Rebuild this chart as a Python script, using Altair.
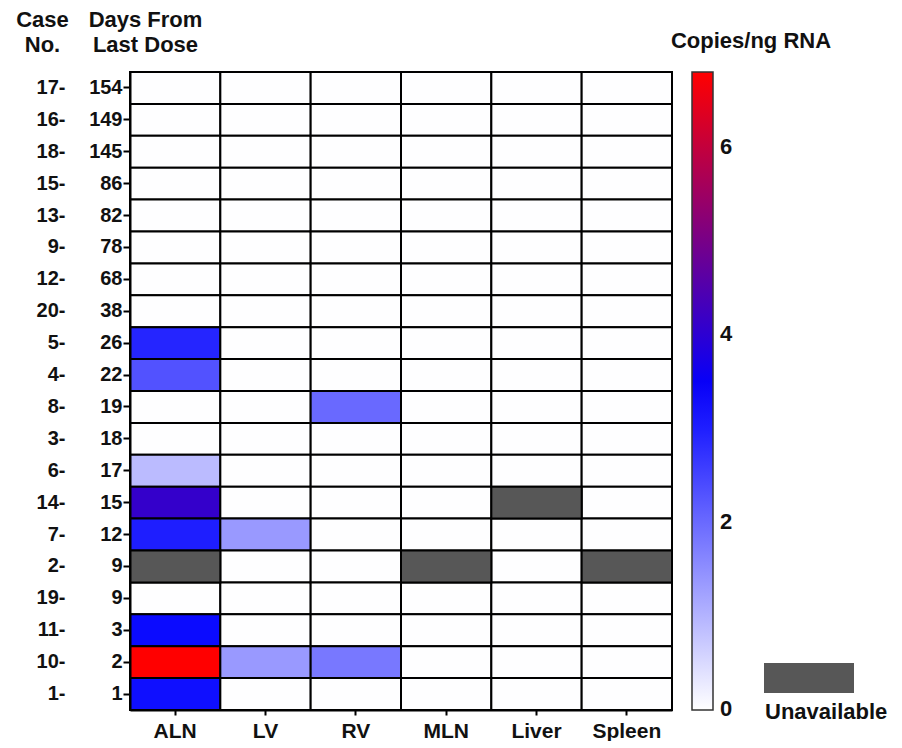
import altair as alt
import pandas as pd

FONT = "Liberation Sans"

cases = [17, 16, 18, 15, 13, 9, 12, 20, 5, 4, 8, 3, 6, 14, 7, 2, 19, 11, 10, 1]
days = [154, 149, 145, 86, 82, 78, 68, 38, 26, 22, 19, 18, 17, 15, 12, 9, 9, 3, 2, 1]
tissues = ["ALN", "LV", "RV", "MLN", "Liver", "Spleen"]
N = None  # unavailable sample
aln = [0, 0, 0, 0, 0, 0, 0, 0, 2.9, 2.3, 0, 0, 0.9, 4.1, 3.0, N, 0, 3.25, 6.8, 3.2]
lv = [0, 0, 0, 0, 0, 0, 0, 0, 0, 0, 0, 0, 0, 0, 1.35, 0, 0, 0, 1.35, 0]
rv = [0, 0, 0, 0, 0, 0, 0, 0, 0, 0, 2.0, 0, 0, 0, 0, 0, 0, 0, 1.8, 0]
mln = [0, 0, 0, 0, 0, 0, 0, 0, 0, 0, 0, 0, 0, 0, 0, N, 0, 0, 0, 0]
liver = [0, 0, 0, 0, 0, 0, 0, 0, 0, 0, 0, 0, 0, N, 0, 0, 0, 0, 0, 0]
spleen = [0, 0, 0, 0, 0, 0, 0, 0, 0, 0, 0, 0, 0, 0, 0, N, 0, 0, 0, 0]
color_ticks = [0, 2, 4, 6]
color_domain = [-0.01, 3.4, 6.8]
color_range = ["#ffffff", "#0000ff", "#ff0000"]

keys = [f"{c}|{d}" for c, d in zip(cases, days)]
cols = dict(zip(tissues, [aln, lv, rv, mln, liver, spleen]))
rows = []
for t in tissues:
    for k, v in zip(keys, cols[t]):
        rows.append({"Key": k, "Tissue": t, "Value": v})
df = pd.DataFrame(rows)

base = alt.Chart(df)

X = alt.X(
    "Tissue:N", sort=tissues, title=None,
    axis=alt.Axis(labelAngle=0, labelFontSize=21, labelPadding=5, tickSize=5,
                  tickWidth=2, tickColor="black", domainColor="black",
                  domainWidth=2),
)

heat = base.transform_filter("datum.Value != null").mark_rect(
    stroke="black", strokeWidth=2
).encode(
    x=X,
    y=alt.Y(
        "Key:N", sort=keys,
        axis=alt.Axis(orient="left", labelExpr="split(datum.value,'|')[1]",
                      labelFontSize=20, labelPadding=1, tickSize=7, tickWidth=2,
                      tickColor="black", domainColor="black", domainWidth=2,
                      title=["Days From", "Last Dose"], titleAngle=0,
                      titleAlign="center", titleBaseline="alphabetic",
                      titleX=15, titleY=-46, titleLineHeight=25,
                      titleFontSize=22),
    ),
    color=alt.Color(
        "Value:Q",
        scale=alt.Scale(domain=color_domain, range=color_range,
                        interpolate="rgb", clamp=True),
        legend=alt.Legend(orient="right", offset=20, direction="vertical",
                          gradientLength=638, gradientThickness=21,
                          values=color_ticks, format="d", labelFontSize=22,
                          labelOffset=7, labelOverlap=False,
                          gradientStrokeColor="#333333",
                          gradientStrokeWidth=1.5, title=None),
    ),
)

na = base.transform_filter("datum.Value == null").mark_rect(
    color="#575757", stroke="black", strokeWidth=2
).encode(
    x=X,
    y=alt.Y(
        "Key:N", sort=keys,
        axis=alt.Axis(orient="left", offset=62, ticks=False, domain=False,
                      labelExpr="split(datum.value,'|')[0] + '-'",
                      labelFontSize=20, labelPadding=3,
                      title=["Case", "No."], titleAngle=0,
                      titleAlign="center", titleBaseline="alphabetic",
                      titleX=-26, titleY=-46, titleLineHeight=25,
                      titleFontSize=22),
    ),
)

one = pd.DataFrame({"t": ["Copies/ng RNA"]})
legend_title = alt.Chart(one).mark_text(
    font=FONT, fontWeight="bold", fontSize=22, align="center",
    baseline="alphabetic", color="#111111"
).encode(text="t:N", x=alt.value(621), y=alt.value(-24))

na_key = alt.Chart(pd.DataFrame({"t": ["Unavailable"]})).mark_rect(
    color="#575757"
).encode(x=alt.value(634), x2=alt.value(724), y=alt.value(591), y2=alt.value(621))

na_text = alt.Chart(pd.DataFrame({"t": ["Unavailable"]})).mark_text(
    font=FONT, fontWeight="bold", fontSize=22, align="left",
    baseline="middle", color="#111111"
).encode(text="t:N", x=alt.value(635), y=alt.value(640))

chart = alt.layer(heat, na, legend_title, na_key, na_text).resolve_scale(
    y="shared"
).resolve_axis(y="independent").properties(
    width=542, height=638,
    padding={"left": 7, "top": 0, "right": 0, "bottom": 0},
).configure_view(
    stroke="black", strokeWidth=2
).configure_axis(
    labelFont=FONT, labelFontWeight="bold", labelColor="#111111",
    titleFont=FONT, titleFontWeight="bold", titleColor="#111111", grid=False,
).configure_legend(
    labelFont=FONT, labelFontWeight="bold", labelColor="#111111",
)

chart.save("out.html", embed_options={"renderer": "svg", "actions": False})
